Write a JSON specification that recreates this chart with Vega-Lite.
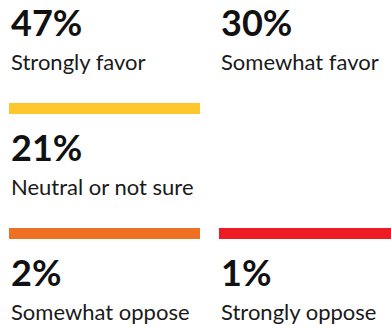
{
  "$schema": "https://vega.github.io/schema/vega-lite/v6.json",
  "width": 391,
  "height": 328,
  "autosize": {"type": "fit", "contains": "padding"},
  "padding": 0,
  "background": "white",
  "config": {"view": {"stroke": null}},
  "data": {
    "values": [
      {"category": "Strongly favor", "value": "47%", "col": 0, "row": 0},
      {"category": "Somewhat favor", "value": "30%", "col": 1, "row": 0},
      {"category": "Neutral or not sure", "value": "21%", "col": 0, "row": 1},
      {"category": "Somewhat oppose", "value": "2%", "col": 0, "row": 2},
      {"category": "Strongly oppose", "value": "1%", "col": 1, "row": 2}
    ]
  },
  "encoding": {
    "x": {"field": "col", "type": "ordinal", "bandPosition": 0, "axis": null,
      "scale": {"type": "band", "domain": [0, 1], "range": [9, 410], "paddingInner": 0.0905, "paddingOuter": 0}},
    "y": {"field": "row", "type": "quantitative", "axis": null,
      "scale": {"domain": [0, 2], "range": [-16.5, 233.5], "zero": false, "nice": false}}
  },
  "layer": [
    {
      "transform": [{"filter": "datum.row > 0"}],
      "mark": {"type": "tick", "thickness": 11, "size": 191, "clip": true, "opacity": 1},
      "encoding": {
        "x": {"field": "col", "type": "ordinal", "axis": null,
          "scale": {"type": "band", "domain": [0, 1], "range": [9, 410], "paddingInner": 0.0905, "paddingOuter": 0}},
        "color": {"field": "category", "type": "nominal", "legend": null,
          "scale": {"domain": ["Neutral or not sure", "Somewhat oppose", "Strongly oppose"], "range": ["#FFC72C", "#EE7023", "#ED1C24"]}}
      }
    },
    {
      "mark": {"type": "text", "align": "left", "baseline": "alphabetic", "dx": 2, "dy": 52, "font": "Lato", "fontSize": 36, "fontWeight": "bold", "color": "#111111"},
      "encoding": {"text": {"field": "value"}}
    },
    {
      "mark": {"type": "text", "align": "left", "baseline": "alphabetic", "dx": 2, "dy": 86, "font": "Lato", "fontSize": 22, "color": "#1a1a1a"},
      "encoding": {"text": {"field": "category"}}
    }
  ]
}
